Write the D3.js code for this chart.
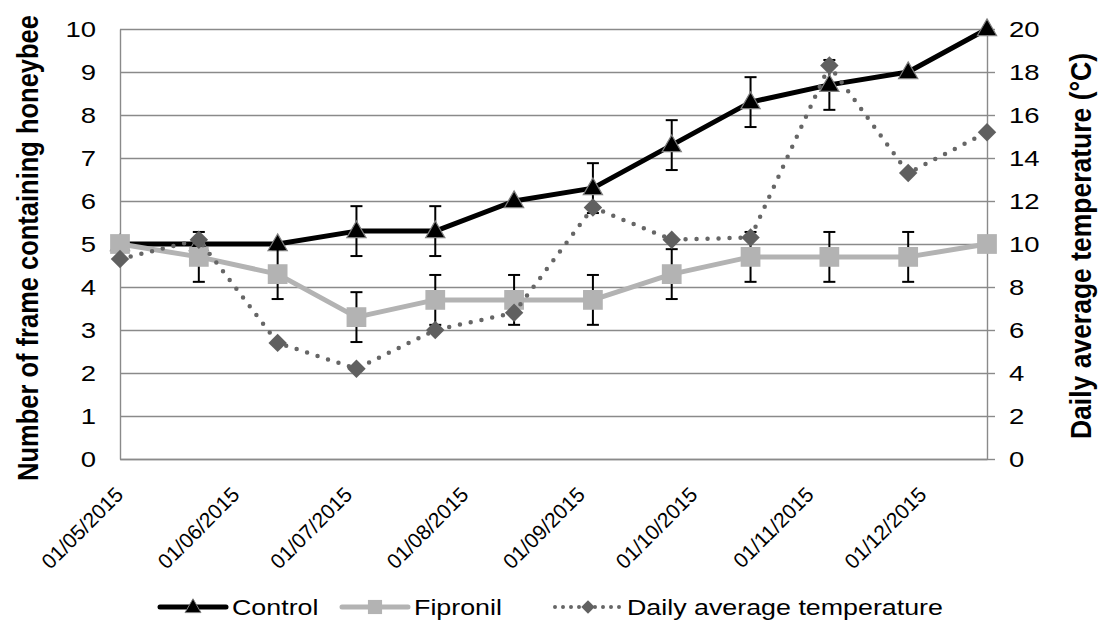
<!DOCTYPE html>
<html>
<head>
<meta charset="utf-8">
<script src="https://cdn.jsdelivr.net/npm/d3@7"></script>
<style>
  body { margin: 0; background: #fff; }
  svg { font-family: "Liberation Sans", Arial, sans-serif; }
</style>
</head>
<body>
<svg id="chart" width="1100" height="627"></svg>
<script>
// data (one sample every 3 weeks)
const dates = ["2015-05-01", "2015-05-22", "2015-06-12", "2015-07-03", "2015-07-24", "2015-08-14",
               "2015-09-04", "2015-09-25", "2015-10-16", "2015-11-06", "2015-11-27", "2015-12-18"]
const control = [5, 5, 5, 5.3, 5.3, 6, 6.3, 7.3, 8.3, 8.7, 9, 10]
const controlErr = [0, 0, 0, 0.58, 0.58, 0, 0.58, 0.58, 0.58, 0.58, 0, 0]
const fipronil = [5, 4.7, 4.3, 3.3, 3.7, 3.7, 3.7, 4.3, 4.7, 4.7, 4.7, 5]
const fipronilErr = [0, 0.58, 0.58, 0.58, 0.58, 0.58, 0.58, 0.58, 0.58, 0.58, 0.58, 0]
const temperature = [9.3, 10.2, 5.4, 4.2, 6.0, 6.8, 11.7, 10.2, 10.3, 18.3, 13.3, 15.2]
const leftTicks = [0, 1, 2, 3, 4, 5, 6, 7, 8, 9, 10]
const rightTicks = [0, 2, 4, 6, 8, 10, 12, 14, 16, 18, 20]
const seriesNames = ["Control", "Fipronil", "Daily average temperature"]

const parse = d3.utcParse("%Y-%m-%d")
const days = dates.map(parse)

// text in the reference is a bit wider than Arial
const STRETCH = 1.25
const grid = "#8a8a8a"

let margin = { top: 29, right: 113, bottom: 168, left: 120 },
    width = 1100 - margin.left - margin.right,
    height = 627 - margin.top - margin.bottom

let svg = d3.select("#chart")
let g = svg.append("g").attr("transform", "translate(" + margin.left + "," + margin.top + ")")

let x = d3.scaleUtc().domain([days[0], days[days.length - 1]]).range([0, width])
let y = d3.scaleLinear().domain([0, 10]).range([height, 0])
let y2 = d3.scaleLinear().domain([0, 20]).range([height, 0])

// left axis + grid
let yAxis = g.append("g")
    .call(d3.axisLeft(y).tickValues(leftTicks).tickSize(-width).tickSizeOuter(0).tickPadding(0))
yAxis.selectAll("line").attr("stroke", grid).attr("stroke-width", 1.4)
yAxis.select(".domain").attr("stroke", grid).attr("stroke-width", 1.4)
yAxis.selectAll("text")
    .attr("x", 0)
    .attr("font-size", 22).attr("fill", "#000")
    .attr("transform", "translate(-24,0) scale(" + STRETCH + ",1)")

// right axis
let y2Axis = g.append("g")
    .attr("transform", "translate(" + width + ",0)")
    .call(d3.axisRight(y2).tickValues(rightTicks).tickSize(8).tickSizeOuter(0).tickPadding(0))
y2Axis.selectAll("line").attr("stroke", grid).attr("stroke-width", 1.4)
y2Axis.select(".domain").attr("stroke", grid).attr("stroke-width", 1.4)
y2Axis.selectAll("text")
    .attr("x", 0)
    .attr("font-size", 22).attr("fill", "#000")
    .attr("transform", "translate(22,0) scale(" + STRETCH + ",1)")

// bottom axis with monthly labels
let monthTicks = d3.utcMonth.range(days[0], d3.utcDay.offset(days[days.length - 1], 1))
let xAxis = g.append("g")
    .attr("transform", "translate(0," + height + ")")
    .call(d3.axisBottom(x).tickValues(monthTicks).tickFormat(d3.utcFormat("%d/%m/%Y")).tickSize(0).tickSizeOuter(0))
xAxis.select(".domain").attr("stroke", grid).attr("stroke-width", 1.4)
xAxis.selectAll("text")
    .attr("font-size", 21).attr("fill", "#000")
    .attr("text-anchor", "end")
    .attr("x", 0).attr("y", 0).attr("dy", 0)
    .attr("transform", "translate(4,37) rotate(-45)")

// axis titles
g.append("text")
    .attr("transform", "translate(" + (-93) + "," + (height / 2 + 4) + ") scale(1.18,1) rotate(-90)")
    .attr("text-anchor", "middle").attr("dy", "0.35em")
    .attr("font-size", 25.5).attr("font-weight", "bold")
    .text("Number of frame containing honeybee")
g.append("text")
    .attr("transform", "translate(" + (width + 94) + "," + (height / 2 + 2) + ") scale(1.12,1) rotate(-90)")
    .attr("text-anchor", "middle").attr("dy", "0.35em")
    .attr("font-size", 26.5).attr("font-weight", "bold")
    .text("Daily average temperature (°C)")

// series
let controlData = days.map((d, i) => ({ date: d, v: control[i], e: controlErr[i] }))
let fipronilData = days.map((d, i) => ({ date: d, v: fipronil[i], e: fipronilErr[i] }))
let tempData = days.map((d, i) => ({ date: d, v: temperature[i] }))

function errorBars(data, scale) {
    let eb = g.append("g").attr("stroke", "#000").attr("stroke-width", 2)
    data.filter(d => d.e > 0).forEach(d => {
        let cx = x(d.date), top = scale(d.v + d.e), bot = scale(d.v - d.e)
        eb.append("line").attr("x1", cx).attr("x2", cx).attr("y1", top).attr("y2", bot)
        eb.append("line").attr("x1", cx - 6).attr("x2", cx + 6).attr("y1", top).attr("y2", top)
        eb.append("line").attr("x1", cx - 6).attr("x2", cx + 6).attr("y1", bot).attr("y2", bot)
    })
}

let lineL = d3.line().x(d => x(d.date)).y(d => y(d.v))
let lineR = d3.line().x(d => x(d.date)).y(d => y2(d.v))

let triangle = d3.symbol().type(d3.symbolTriangle).size(160)
let square = d3.symbol().type(d3.symbolSquare).size(390)
let diamond = d3.symbol().type(d3.symbolSquare).size(170)

// Control
errorBars(controlData, y)
g.append("path").datum(controlData)
    .attr("d", lineL).attr("fill", "none").attr("stroke", "#000").attr("stroke-width", 5)
    .attr("stroke-linejoin", "round")
g.selectAll(".tri").data(controlData).enter().append("path")
    .attr("class", "tri")
    .attr("d", triangle)
    .attr("transform", d => "translate(" + x(d.date) + "," + (y(d.v) + 1) + ")")
    .attr("fill", "#000").attr("stroke", "#7f7f7f").attr("stroke-width", 1.2)

// Fipronil
errorBars(fipronilData, y)
g.append("path").datum(fipronilData)
    .attr("d", lineL).attr("fill", "none").attr("stroke", "#b3b3b3").attr("stroke-width", 5)
    .attr("stroke-linejoin", "round")
g.selectAll(".sq").data(fipronilData).enter().append("path")
    .attr("class", "sq")
    .attr("d", square)
    .attr("transform", d => "translate(" + x(d.date) + "," + y(d.v) + ")")
    .attr("fill", "#b3b3b3")

// Temperature (right axis)
g.append("path").datum(tempData)
    .attr("d", lineR).attr("fill", "none").attr("stroke", "#666").attr("stroke-width", 4.5)
    .attr("stroke-linecap", "round").attr("stroke-dasharray", "0 11")
g.selectAll(".dia").data(tempData).enter().append("path")
    .attr("class", "dia")
    .attr("d", diamond)
    .attr("transform", d => "translate(" + x(d.date) + "," + y2(d.v) + ") rotate(45)")
    .attr("fill", "#606060")

// legend
let legend = svg.append("g").attr("transform", "translate(0,607)")
let legendX = [160, 342, 555]
let legendItems = [
    { line: { stroke: "#000", width: 5, dash: null }, sym: d3.symbol().type(d3.symbolTriangle).size(110), fill: "#000", stroke: "#7f7f7f", rot: 0 },
    { line: { stroke: "#b3b3b3", width: 5, dash: null }, sym: d3.symbol().type(d3.symbolSquare).size(200), fill: "#b3b3b3", stroke: "none", rot: 0 },
    { line: { stroke: "#666", width: 4, dash: "0 8" }, sym: d3.symbol().type(d3.symbolSquare).size(90), fill: "#606060", stroke: "none", rot: 45 }
]
legendItems.forEach((it, i) => {
    let lg = legend.append("g").attr("transform", "translate(" + legendX[i] + ",0)")
    lg.append("line").attr("x1", 0).attr("x2", 66).attr("y1", 0).attr("y2", 0)
        .attr("stroke", it.line.stroke).attr("stroke-width", it.line.width)
        .attr("stroke-linecap", "round")
        .attr("stroke-dasharray", it.line.dash)
    lg.append("path").attr("d", it.sym)
        .attr("transform", "translate(33," + (i == 0 ? 1 : 0) + ") rotate(" + it.rot + ")")
        .attr("fill", it.fill).attr("stroke", it.stroke)
    lg.append("text")
        .attr("transform", "translate(72,0) scale(" + 1.22 + ",1)")
        .attr("dy", "0.35em").attr("font-size", 22)
        .text(seriesNames[i])
})
</script>
</body>
</html>
